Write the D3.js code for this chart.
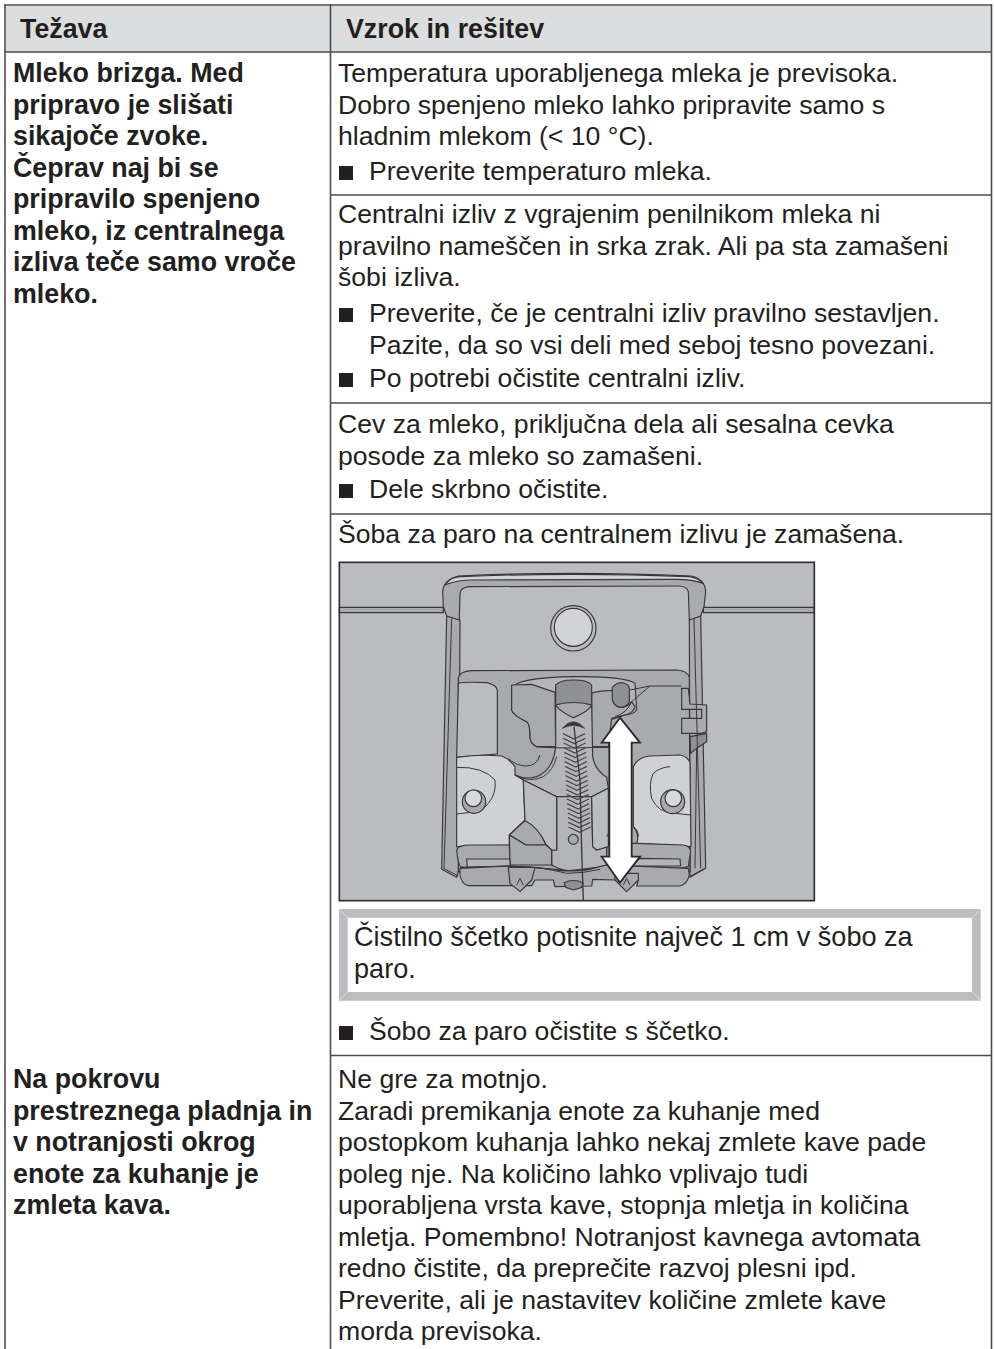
<!DOCTYPE html>
<html>
<head>
<meta charset="utf-8">
<script src="https://cdnjs.cloudflare.com/ajax/libs/d3/7.8.5/d3.min.js"></script>
<style>
  html, body { margin: 0; padding: 0; background: #fff; }
  svg { display: block; }
  text { font-family: "Liberation Sans", Arial, sans-serif; fill: #231f20; font-size: 26.6px; }
  .b { font-weight: bold; font-size: 26.8px; }
  .n { font-size: 27.1px; }
</style>
</head>
<body>
<div id="canvas"></div>
<script>
var headers = ["Težava", "Vzrok in rešitev"];

var problemLines = ["Mleko brizga. Med", "pripravo je slišati", "sikajoče zvoke.", "Čeprav naj bi se",
  "pripravilo spenjeno", "mleko, iz centralnega", "izliva teče samo vroče", "mleko."];
var problemBase = [82, 113.5, 145, 176.5, 208, 239.5, 271, 302.5];

var problem2Lines = ["Na pokrovu", "prestreznega pladnja in", "v notranjosti okrog", "enote za kuhanje je", "zmleta kava."];
var problem2Base = [1088, 1120, 1151, 1183, 1214];

var causeLines = ["Temperatura uporabljenega mleka je previsoka.", "Dobro spenjeno mleko lahko pripravite samo s",
  "hladnim mlekom (< 10 °C).", "Centralni izliv z vgrajenim penilnikom mleka ni",
  "pravilno nameščen in srka zrak. Ali pa sta zamašeni", "šobi izliva.",
  "Cev za mleko, priključna dela ali sesalna cevka", "posode za mleko so zamašeni.",
  "Šoba za paro na centralnem izlivu je zamašena.", "Ne gre za motnjo.", "Zaradi premikanja enote za kuhanje med",
  "postopkom kuhanja lahko nekaj zmlete kave pade", "poleg nje. Na količino lahko vplivajo tudi",
  "uporabljena vrsta kave, stopnja mletja in količina", "mletja. Pomembno! Notranjost kavnega avtomata",
  "redno čistite, da preprečite razvoj plesni ipd.", "Preverite, ali je nastavitev količine zmlete kave",
  "morda previsoka."];
var causeBase = [82, 113.5, 145, 223, 255, 286, 433, 464.5, 543, 1088, 1120, 1151, 1183, 1214, 1246, 1277, 1309, 1340];

var bulletLines = ["Preverite temperaturo mleka.", "Preverite, če je centralni izliv pravilno sestavljen.",
  "Po potrebi očistite centralni izliv.", "Dele skrbno očistite.", "Šobo za paro očistite s ščetko."];
var bulletBase = [180, 322, 387, 498, 1040];

var bulletCont = ["Pazite, da so vsi deli med seboj tesno povezani."];
var bulletContBase = [353.5];

var noticeLines = ["Čistilno ščetko potisnite največ 1 cm v šobo za", "paro."];
var noticeBase = [945.5, 978];

var rowRules = [195, 403, 514, 1055.5];

// illustration shapes, in the coordinates of a 3x crop of the picture
var G1 = "#bbbcbf", G2 = "#a9aaad", G3 = "#b4b5b8", G4 = "#8f9093", LT = "#d0d1d3";
var drawingShapes = [
  { d: "M28 172L340 172L340 188L28 188Z", f: "#a9aaad" },
  { d: "M1120 172L1453 172L1453 188L1120 188Z", f: "#a9aaad" },
  { d: "M350 198L390 210L386 960L380 982L335 958Z", f: G2 },
  { d: "M1078 208L1112 198L1127 955L1080 982L1080 960Z", f: G2 },
  { d: "M338 125Q340 90 385 78Q720 62 1085 78Q1125 88 1127 125L1122 170L1112 198L1078 210L1075 125Q1070 108 1045 108L420 110Q392 112 390 130L388 210L350 198L340 170Z", f: G2 },
  { d: "M345 105Q360 82 390 80Q720 66 1080 80Q1105 84 1120 100Q1085 88 1040 88L420 90Q375 92 345 105Z", f: "#d2d3d5" },
  { d: "M385 385Q388 364 425 362L1040 360Q1072 362 1078 382L1080 965L385 965Z", f: G2 },
  { d: "M385 400Q400 395 470 398Q500 405 502 420L502 612L380 622Z", f: G1 },
  { d: "M545 415Q560 382 735 380Q880 378 915 400L920 478Q915 492 885 495L840 510L835 592L620 590Q600 580 600 560Q600 520 590 515Q548 495 545 480Z", f: G3 },
  { d: "M545 405L605 403L675 427L677 590L620 590Q600 580 600 560Q600 520 590 515Q548 495 545 480Z", f: G2 },
  { d: "M785 430Q810 420 848 422L848 450Q855 470 875 472Q895 470 905 455L915 470Q910 490 885 495L845 505L835 590L785 590Z", f: G2 },
  { d: "M677 465L785 465L788 620Q795 660 830 682L835 715L785 740L680 740L580 690L555 675Q590 690 620 680Q670 660 677 590Z", f: G3 },
  { d: "M677 405Q690 390 730 390Q775 390 785 405L785 465Q730 450 677 465Z", f: G4 },
  { d: "M677 465Q730 450 785 465Q775 485 730 503Q690 485 677 465Z", f: G2 },
  { d: "M847 412Q860 398 875 398Q895 400 898 415L898 455Q890 472 870 472Q852 468 847 450Z", f: G4 },
  { d: "M380 622Q450 612 515 618Q535 625 555 650L555 675L580 690L585 810L538 855L538 885L380 890Z", f: LT },
  { d: "M910 650Q925 620 960 618L1050 615Q1075 620 1080 640L1083 890L920 880Q930 855 910 830Z", f: LT },
  { d: "M380 900Q385 885 420 885L538 885L540 948L395 952Q385 950 380 900Z", f: G2 },
  { d: "M920 880L1060 885Q1080 888 1082 905L1075 950L1052 955L830 945L830 880Z", f: G2 },
  { d: "M680 740L785 740L788 890L800 900L830 890L830 945Q760 965 715 962Q690 960 665 945L665 900L680 900Z", f: G3 },
  { d: "M580 690L680 740L680 900L665 900L648 885Q630 840 585 812Z", f: G1 },
  { d: "M785 740L835 715L835 890L800 900L788 890Z", f: G1 },
  { d: "M585 812Q625 830 648 885L588 885L538 855Z", f: G2 },
  { d: "M538 855L588 885L648 885L665 900L665 945L540 945Z", f: G2 },
  { d: "M410 927L540 927L540 948L412 952Z", f: G3 },
  { d: "M930 925L1050 927L1052 948L900 948Z", f: G3 },
  { d: "M390 955L535 948Q600 950 670 958Q700 965 715 962Q760 965 800 952L830 945L1075 955L1078 975Q1072 1003 1050 1008L920 1008L925 990L855 990L788 988L785 1008L675 1010L670 990L615 990L605 1007L415 1007Q395 1003 390 975Z", f: G2 },
  { d: "M535 952L615 952L605 990L570 1025L540 1000Z", f: G2 },
  { d: "M855 970L925 970L925 990L890 1025L855 990Z", f: G2 },
  { d: "M702 998Q730 985 760 998L755 1012L730 1020L708 1012Z", f: G4 },
  { d: "M1055 415L1075 415L1080 462L1130 465L1130 545L1115 550L1055 550L1055 505L1115 505L1115 478L1055 478Z", f: G2 },
  { d: "M1080 560L1130 550L1130 575L1100 595L1082 610Z", f: G4 }
];

var drawingLines = [
  "M620 590Q700 598 835 590", "M630 615Q620 650 585 648Q555 645 535 625", "M855 500Q890 490 905 455L960 408",
  "M900 420L960 408L1055 408", "M555 675Q600 700 640 680Q670 660 680 620",
  "M1100 595L1095 955", "M365 205L342 955", "M1092 205L1112 955", "M340 955L385 978", "M1125 955L1082 978",
  "M390 952L535 948Q600 950 670 958L715 962L800 952", "M620 952Q670 960 710 970Q760 970 810 958",
  "M495 690Q500 730 475 760Q455 785 440 785L380 792", "M970 670Q955 700 965 745Q985 790 1035 790L1082 795",
  "M1020 650Q990 652 970 670", "M380 652Q460 650 495 690", "M830 860Q840 840 850 835", "M910 830Q925 840 925 860",
  "M560 1005L570 985L580 1005", "M880 1005L890 985L900 1005"
];

var boltCircles = [
  { cx: 432, cy: 755, r: 35, f: G2 }, { cx: 430, cy: 745, r: 25, f: "#d8d9db" },
  { cx: 1028, cy: 755, r: 36, f: G2 }, { cx: 1030, cy: 745, r: 25, f: "#d8d9db" },
  { cx: 730, cy: 235, r: 68, f: "#bbbcbf" }, { cx: 730, cy: 232, r: 57, f: "#d2d3d5" },
  { cx: 730, cy: 868, r: 15, f: G2 }
];

var bristleRows = [560, 574, 588, 602, 616, 630, 644, 658, 672, 686, 700, 714, 728, 742, 756, 770, 784, 798, 812, 826, 840];
var arrowShape = "M870 503L930 578L905 578L905 920L930 920L870 998L815 920L838 920L838 578L815 578Z";

var width = 994, height = 1349;
var textColor = "#231f20", ruleColor = "#4d4d4f", inkColor = "#38383a";

var svg = d3.select("#canvas").append("svg")
  .attr("width", width)
  .attr("height", height);

// header band and table rules
svg.append("rect").attr("x", 6).attr("y", 6).attr("width", 985).attr("height", 46).attr("fill", "#dcddde");

var rules = [
  [5, 5, 992, 5], [5, 52, 992, 52], [5, 4, 5, height], [330.5, 4, 330.5, height], [991.5, 4, 991.5, height]
].concat(rowRules.map(function(y) { return [330.5, y, 991.5, y]; }));

svg.selectAll("line.rule")
  .data(rules)
  .enter().append("line")
  .attr("class", "rule")
  .attr("x1", function(d) { return d[0]; })
  .attr("y1", function(d) { return d[1]; })
  .attr("x2", function(d) { return d[2]; })
  .attr("y2", function(d) { return d[3]; })
  .attr("stroke", ruleColor)
  .attr("stroke-width", 1.6);

function addLines(lines, base, x, cls) {
  svg.selectAll(null)
    .data(lines)
    .enter().append("text")
    .attr("class", cls || null)
    .attr("x", x)
    .attr("y", function(d, i) { return base[i]; })
    .text(function(d) { return d; });
}

addLines([headers[0]], [38], 20, "b");
addLines([headers[1]], [38], 346, "b");
addLines(problemLines, problemBase, 13, "b");
addLines(problem2Lines, problem2Base, 13, "b");
addLines(causeLines, causeBase, 338);
addLines(bulletLines, bulletBase, 369);
addLines(bulletCont, bulletContBase, 369);
addLines(noticeLines, noticeBase, 354, "n");

svg.selectAll("rect.bullet")
  .data(bulletBase)
  .enter().append("rect")
  .attr("class", "bullet")
  .attr("x", 339)
  .attr("y", function(d) { return d - 14; })
  .attr("width", 14)
  .attr("height", 14)
  .attr("fill", textColor);

// illustration
var drawing = svg.append("g").attr("transform", "translate(330,550) scale(0.33333)");

drawing.append("rect")
  .attr("x", 28).attr("y", 37).attr("width", 1425).attr("height", 1015)
  .attr("fill", "#bbbcbf");

drawing.selectAll("path.shape")
  .data(drawingShapes)
  .enter().append("path")
  .attr("class", "shape")
  .attr("d", function(d) { return d.d; })
  .attr("fill", function(d) { return d.f; })
  .attr("stroke", inkColor)
  .attr("stroke-width", 3.5)
  .attr("stroke-linejoin", "round");

drawing.selectAll("path.detail")
  .data(drawingLines)
  .enter().append("path")
  .attr("class", "detail")
  .attr("d", function(d) { return d; })
  .attr("fill", "none")
  .attr("stroke", inkColor)
  .attr("stroke-width", 3);

drawing.selectAll("circle")
  .data(boltCircles)
  .enter().append("circle")
  .attr("cx", function(d) { return d.cx; })
  .attr("cy", function(d) { return d.cy; })
  .attr("r", function(d) { return d.r; })
  .attr("fill", function(d) { return d.f; })
  .attr("stroke", inkColor)
  .attr("stroke-width", 3.5);

// brush: wire, tip and bristles
drawing.selectAll("path.bristle")
  .data(bristleRows)
  .enter().append("path")
  .attr("class", "bristle")
  .attr("d", function(y) {
    var c = 732 + (y - 560) * 0.06;
    return "M" + (c - 33) + " " + (y - 9) + "L" + c + " " + (y + 7) + "L" + (c + 33) + " " + (y - 9);
  })
  .attr("fill", "none")
  .attr("stroke", "#4a4a4c")
  .attr("stroke-width", 3.8);
drawing.append("path")
  .attr("d", "M732 530L750 690L755 900L760 1052")
  .attr("fill", "none").attr("stroke", inkColor).attr("stroke-width", 4);
drawing.append("path")
  .attr("d", "M697 535Q730 495 764 535Q730 518 697 535Z")
  .attr("fill", "#38383a").attr("stroke", inkColor).attr("stroke-width", 2);

drawing.append("path")
  .attr("d", arrowShape)
  .attr("fill", "#fff")
  .attr("stroke", "#2a2a2c")
  .attr("stroke-width", 5.5)
  .attr("stroke-linejoin", "miter");

drawing.append("rect")
  .attr("x", 28).attr("y", 37).attr("width", 1425).attr("height", 1015)
  .attr("fill", "none").attr("stroke", "#2f2f31").attr("stroke-width", 5);

// notice box frame
svg.append("rect")
  .attr("x", 343.3).attr("y", 913.4).attr("width", 633).attr("height", 83)
  .attr("fill", "none").attr("stroke", "#bcbdc0").attr("stroke-width", 8.8);

svg.selectAll("line.mitre")
  .data([[339, 909, 347.7, 917.7], [981, 909, 972.3, 917.7], [339, 1000.8, 347.7, 992], [981, 1000.8, 972.3, 992]])
  .enter().append("line")
  .attr("class", "mitre")
  .attr("x1", function(d) { return d[0]; })
  .attr("y1", function(d) { return d[1]; })
  .attr("x2", function(d) { return d[2]; })
  .attr("y2", function(d) { return d[3]; })
  .attr("stroke", "#dcddde")
  .attr("stroke-width", 0.8);
</script>
</body>
</html>
